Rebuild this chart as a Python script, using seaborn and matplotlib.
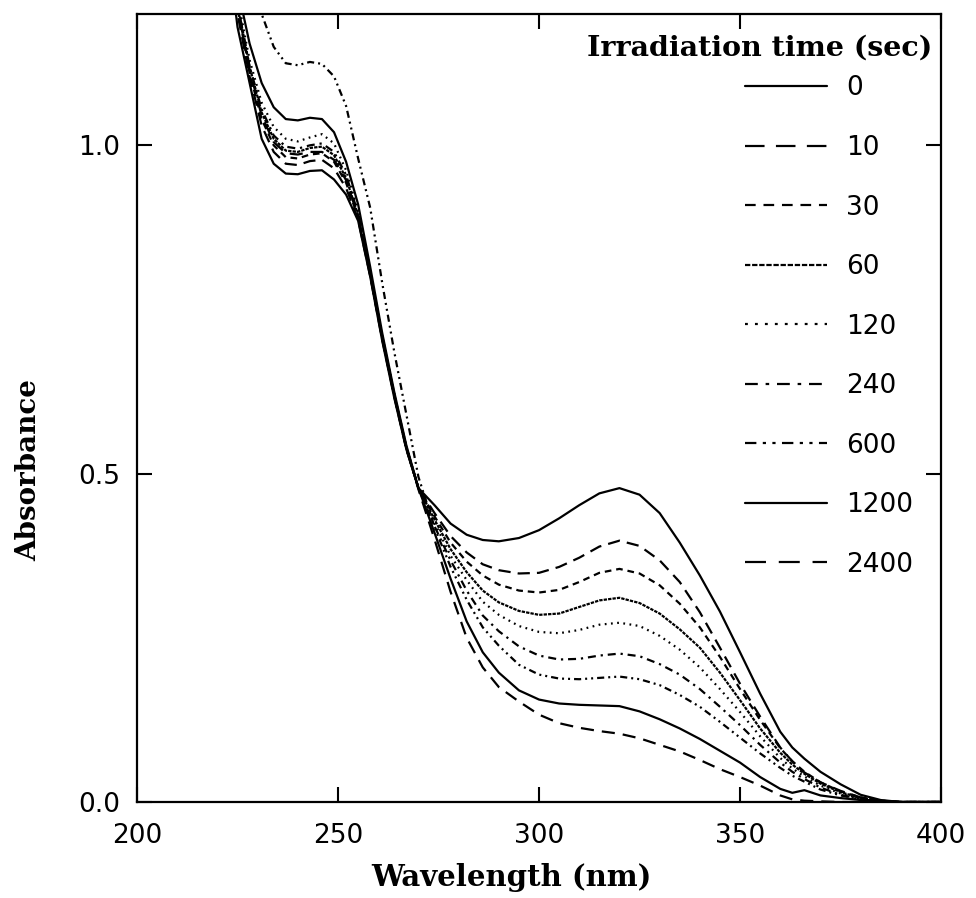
import numpy as np
import pandas as pd
import matplotlib
matplotlib.use("Agg")
import matplotlib.pyplot as plt
import seaborn as sns
from matplotlib.lines import Line2D

# ---------------- data ----------------
wavelength = [222, 225, 228, 231, 234, 237, 240, 243, 246, 249, 252, 255, 258, 261,
              264, 267, 270, 274, 278, 282, 286, 290, 295, 300, 305, 310, 315, 320,
              325, 330, 335, 340, 345, 350, 355, 360, 363, 366, 370, 375, 380, 385,
              390, 400]

abs_0 = [1.33, 1.18, 1.095, 1.01, 0.972, 0.957, 0.956, 0.961, 0.962, 0.948, 0.925, 0.885,
         0.800, 0.702, 0.615, 0.537, 0.478, 0.452, 0.424, 0.407, 0.399, 0.397, 0.402, 0.414,
         0.432, 0.452, 0.470, 0.478, 0.468, 0.440, 0.395, 0.345, 0.290, 0.228, 0.165, 0.107,
         0.083, 0.066, 0.046, 0.027, 0.011, 0.003, 0.0, 0.0]
abs_10 = [1.35, 1.20, 1.105, 1.03, 0.990, 0.972, 0.970, 0.976, 0.978, 0.965, 0.935, 0.887,
          0.801, 0.704, 0.617, 0.537, 0.478, 0.440, 0.405, 0.380, 0.362, 0.353, 0.348, 0.349,
          0.358, 0.372, 0.389, 0.398, 0.390, 0.368, 0.335, 0.289, 0.235, 0.180, 0.130, 0.083,
          0.062, 0.045, 0.030, 0.017, 0.007, 0.002, 0.0, 0.0]
abs_30 = [1.36, 1.21, 1.11, 1.04, 1.000, 0.982, 0.980, 0.986, 0.988, 0.975, 0.943, 0.890,
          0.803, 0.706, 0.619, 0.539, 0.478, 0.435, 0.395, 0.366, 0.345, 0.331, 0.322, 0.319,
          0.323, 0.335, 0.349, 0.355, 0.348, 0.330, 0.302, 0.266, 0.221, 0.172, 0.125, 0.082,
          0.062, 0.046, 0.030, 0.016, 0.007, 0.002, 0.0, 0.0]
abs_60 = [1.37, 1.215, 1.12, 1.05, 1.010, 0.992, 0.990, 0.996, 0.998, 0.985, 0.950, 0.893,
          0.805, 0.708, 0.620, 0.540, 0.478, 0.430, 0.385, 0.350, 0.322, 0.304, 0.291, 0.285,
          0.287, 0.297, 0.307, 0.311, 0.303, 0.287, 0.263, 0.235, 0.197, 0.155, 0.112, 0.075,
          0.057, 0.043, 0.028, 0.015, 0.006, 0.002, 0.0, 0.0]
abs_120 = [1.38, 1.225, 1.13, 1.065, 1.028, 1.010, 1.006, 1.012, 1.017, 1.003, 0.962, 0.900,
           0.808, 0.710, 0.621, 0.541, 0.478, 0.425, 0.375, 0.338, 0.305, 0.285, 0.268, 0.259,
           0.257, 0.262, 0.270, 0.273, 0.268, 0.253, 0.232, 0.205, 0.172, 0.137, 0.100, 0.067,
           0.051, 0.039, 0.025, 0.013, 0.005, 0.001, 0.0, 0.0]
abs_240 = [1.37, 1.215, 1.12, 1.055, 1.015, 0.998, 0.995, 1.000, 1.003, 0.990, 0.955, 0.896,
           0.806, 0.709, 0.620, 0.540, 0.478, 0.420, 0.368, 0.322, 0.284, 0.260, 0.237, 0.223,
           0.217, 0.218, 0.223, 0.226, 0.222, 0.210, 0.194, 0.172, 0.145, 0.117, 0.087, 0.060,
           0.046, 0.035, 0.022, 0.011, 0.004, 0.001, 0.0, 0.0]
abs_600 = [1.60, 1.45, 1.32, 1.20, 1.150, 1.125, 1.122, 1.127, 1.124, 1.105, 1.060, 0.980,
           0.905, 0.790, 0.685, 0.590, 0.495, 0.418, 0.358, 0.308, 0.266, 0.238, 0.209, 0.194,
           0.188, 0.187, 0.189, 0.191, 0.187, 0.178, 0.163, 0.145, 0.122, 0.098, 0.074, 0.052,
           0.040, 0.031, 0.019, 0.010, 0.004, 0.001, 0.0, 0.0]
abs_1200 = [1.40, 1.24, 1.155, 1.095, 1.058, 1.040, 1.038, 1.042, 1.040, 1.020, 0.975, 0.910,
            0.815, 0.714, 0.624, 0.543, 0.478, 0.410, 0.340, 0.275, 0.228, 0.197, 0.170, 0.156,
            0.150, 0.148, 0.147, 0.146, 0.138, 0.126, 0.112, 0.096, 0.078, 0.060, 0.038, 0.020,
            0.014, 0.018, 0.010, 0.006, 0.003, 0.001, 0.0, 0.0]
abs_2400 = [1.36, 1.21, 1.115, 1.045, 1.005, 0.988, 0.986, 0.990, 0.990, 0.978, 0.947, 0.892,
            0.804, 0.707, 0.619, 0.539, 0.476, 0.400, 0.320, 0.250, 0.205, 0.175, 0.153, 0.133,
            0.120, 0.113, 0.108, 0.104, 0.097, 0.087, 0.077, 0.064, 0.050, 0.038, 0.025, 0.010,
            0.004, 0.002, 0.001, 0.0, 0.0, 0.0, 0.0, 0.0]

times = ["0", "10", "30", "60", "120", "240", "600", "1200", "2400"]
series = [abs_0, abs_10, abs_30, abs_60, abs_120, abs_240, abs_600, abs_1200, abs_2400]

x_ticks = [200, 250, 300, 350, 400]
y_ticks = [0.0, 0.5, 1.0]
y_tick_labels = ["0.0", "0.5", "1.0"]

# ---------------- styles ----------------
dash_styles = {
    "0": "",
    "10": (5.5, 3.2),
    "30": (3.0, 2.2),
    "60": (1.5, 0.5),
    "120": (0.8, 2.0),
    "240": (3.6, 2.2, 1.0, 2.2),
    "600": (3.2, 1.8, 0.9, 1.8, 0.9, 1.8),
    "1200": "",
    "2400": (5.9, 3.6),
}
line_w = 1.6

df = pd.concat(
    [pd.DataFrame({"Wavelength": wavelength, "Absorbance": s, "time": t})
     for t, s in zip(times, series)],
    ignore_index=True,
)

sns.set_theme(style="ticks")
plt.rcParams["font.family"] = ["DejaVu Sans"]
plt.rcParams["text.color"] = "black"
plt.rcParams["axes.labelcolor"] = "black"
plt.rcParams["xtick.color"] = "black"
plt.rcParams["ytick.color"] = "black"

fig = plt.figure(figsize=(9.76, 8.98), dpi=100)
ax = fig.add_axes([0.1404, 0.1069, 0.8238, 0.8775])

sns.lineplot(
    data=df, x="Wavelength", y="Absorbance", hue="time", style="time",
    hue_order=times, style_order=times,
    palette={t: "black" for t in times}, dashes=dash_styles,
    estimator=None, sort=True, linewidth=line_w, legend=False, ax=ax,
)

ax.set_xlim(200, 400)
ax.set_ylim(0, 1.2)
ax.set_xticks(x_ticks)
ax.set_xticklabels([str(v) for v in x_ticks])
ax.set_yticks(y_ticks)
ax.set_yticklabels(y_tick_labels)
ax.tick_params(axis="both", which="major", direction="in", length=11, width=1.5,
               top=True, right=True, labelsize=19, colors="black")
ax.tick_params(axis="x", pad=15)
ax.tick_params(axis="y", pad=12)
for sp in ax.spines.values():
    sp.set_visible(True)
    sp.set_linewidth(1.6)
    sp.set_color("black")

ax.set_xlabel("Wavelength (nm)", family="DejaVu Serif", weight="bold", size=21, color="black")
ax.set_ylabel("Absorbance", family="DejaVu Serif", weight="bold", size=20, color="black")
ax.xaxis.set_label_coords(0.466, -0.078)
ax.yaxis.set_label_coords(-0.118, 0.421)

# legend title as separate text
ax.text(0.989, 0.957, "Irradiation time (sec)", transform=ax.transAxes,
        ha="right", va="center", family="DejaVu Serif", weight="bold", size=20.5,
        color="black")

handles = []
for t in times:
    d = dash_styles[t]
    h = Line2D([], [], color="black", linewidth=line_w)
    if d:
        h.set_dashes([v * line_w for v in d])
    handles.append(h)

leg = ax.legend(handles, times, loc="upper left", bbox_to_anchor=(0.756, 0.922),
                frameon=False, fontsize=19, handlelength=3.1, handletextpad=0.75,
                labelspacing=1.27, borderaxespad=0.0, borderpad=0.0)
for txt in leg.get_texts():
    txt.set_color("black")

fig.savefig("out.png", dpi=100, facecolor="white")
